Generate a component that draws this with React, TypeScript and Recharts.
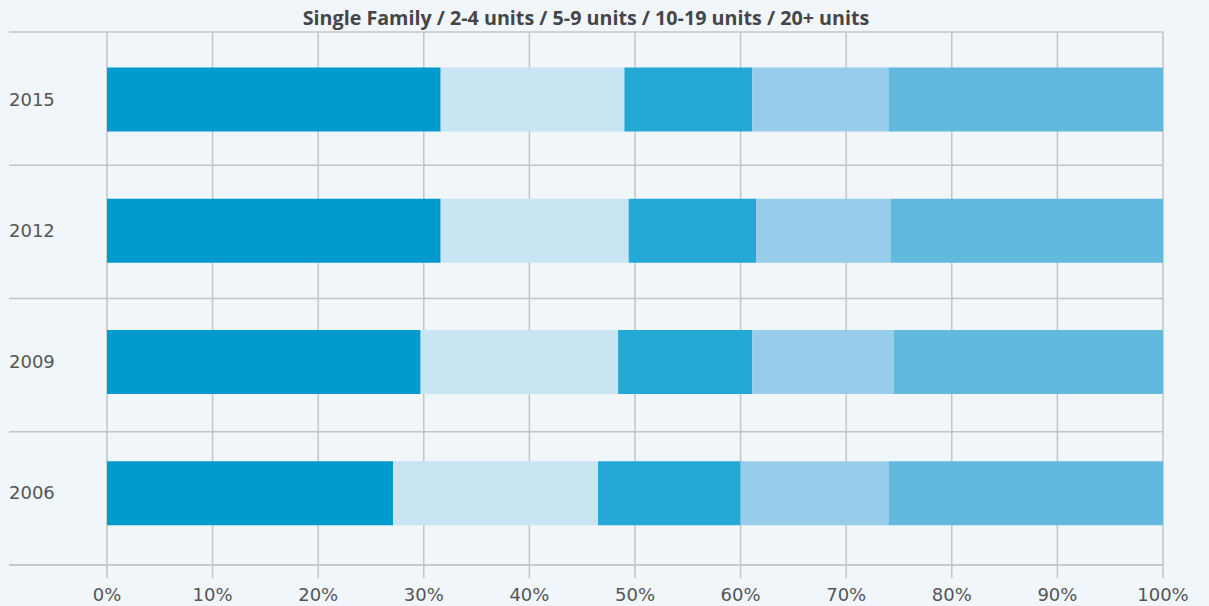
import React from "react";
import { BarChart, Bar, XAxis, YAxis, CartesianGrid } from "recharts";

const years = ["2015", "2012", "2009", "2006"];
const singleFamily = [31.6, 31.6, 29.7, 27.1];
const units2to4 = [17.4, 17.8, 18.7, 19.4];
const units5to9 = [12.1, 12.1, 12.7, 13.5];
const units10to19 = [12.9, 12.7, 13.4, 14.05];
const units20plus = [26.0, 25.8, 25.5, 25.95];
const xTicks = [0, 10, 20, 30, 40, 50, 60, 70, 80, 90, 100];
const xDomain: [number, number] = [-9.28, 100];

const seriesNames = ["Single Family", "2-4 units", "5-9 units", "10-19 units", "20+ units"];
const seriesKeys = ["sf", "u24", "u59", "u1019", "u20"];
const seriesColors = ["#009bce", "#c9e4f3", "#24a8d6", "#97cdea", "#62b9de"];

const data = years.map((y, i) => ({
  year: y,
  sf: singleFamily[i],
  u24: units2to4[i],
  u59: units5to9[i],
  u1019: units10to19[i],
  u20: units20plus[i],
}));

const GRID = "#c4c4c8";
const TEXT = "#555555";
const BG = "#f0f6fa";

if (typeof document !== "undefined") {
  document.documentElement.style.background = BG;
  document.documentElement.style.overflow = "hidden";
  document.body.style.background = BG;
}

const YTick = (props: any) => {
  const { x, y, payload } = props;
  return (
    <text
      x={x}
      y={y}
      dy="0.36em"
      textAnchor="start"
      fill={TEXT}
      fontSize={18}
      fontFamily="'DejaVu Sans', sans-serif"
    >
      {payload.value}
    </text>
  );
};

export default function App() {
  return (
    <div style={{ position: "relative", width: 1193, height: 598, background: BG }}>
      <div
        style={{
          position: "absolute",
          top: 0,
          left: 1,
          width: 1154,
          textAlign: "center",
          fontFamily: "'Open Sans', sans-serif",
          fontWeight: 700,
          fontSize: 19.7,
          lineHeight: "20px",
          color: "#454548",
          zIndex: 1,
        }}
      >
        {seriesNames.join(" / ")}
      </div>
      <BarChart
        width={1193}
        height={598}
        data={data}
        layout="vertical"
        margin={{ top: 24, right: 38, left: 0, bottom: 0 }}
      >
        <CartesianGrid
          stroke={GRID}
          strokeWidth={1.5}
          horizontalCoordinatesGenerator={({ offset }: any) =>
            [0, 1, 2, 3, 4].map((i) => offset.top + (i * offset.height) / 4)
          }
          verticalCoordinatesGenerator={({ offset }: any) =>
            xTicks.map(
              (t) => offset.left + ((t - xDomain[0]) / (xDomain[1] - xDomain[0])) * offset.width
            )
          }
        />
        <XAxis
          type="number"
          domain={xDomain}
          allowDataOverflow
          ticks={xTicks}
          tickFormatter={(v: number) => `${v}%`}
          height={41}
          tickSize={13}
          tickMargin={10}
          axisLine={{ stroke: GRID, strokeWidth: 1.5 }}
          tickLine={{ stroke: GRID, strokeWidth: 1.5 }}
          tick={{ fill: TEXT, fontSize: 18, fontFamily: "'DejaVu Sans', sans-serif" }}
          interval={0}
        />
        <YAxis
          type="category"
          dataKey="year"
          width={1}
          padding={{ top: 1.5, bottom: 6.5 }}
          axisLine={false}
          tickLine={false}
          tickSize={0}
          tickMargin={0}
          tick={<YTick />}
          interval={0}
        />
        {seriesKeys.map((k, i) => (
          <Bar
            key={k}
            dataKey={k}
            name={seriesNames[i]}
            stackId="a"
            fill={seriesColors[i]}
            barSize={64}
            isAnimationActive={false}
          />
        ))}
      </BarChart>
    </div>
  );
}
